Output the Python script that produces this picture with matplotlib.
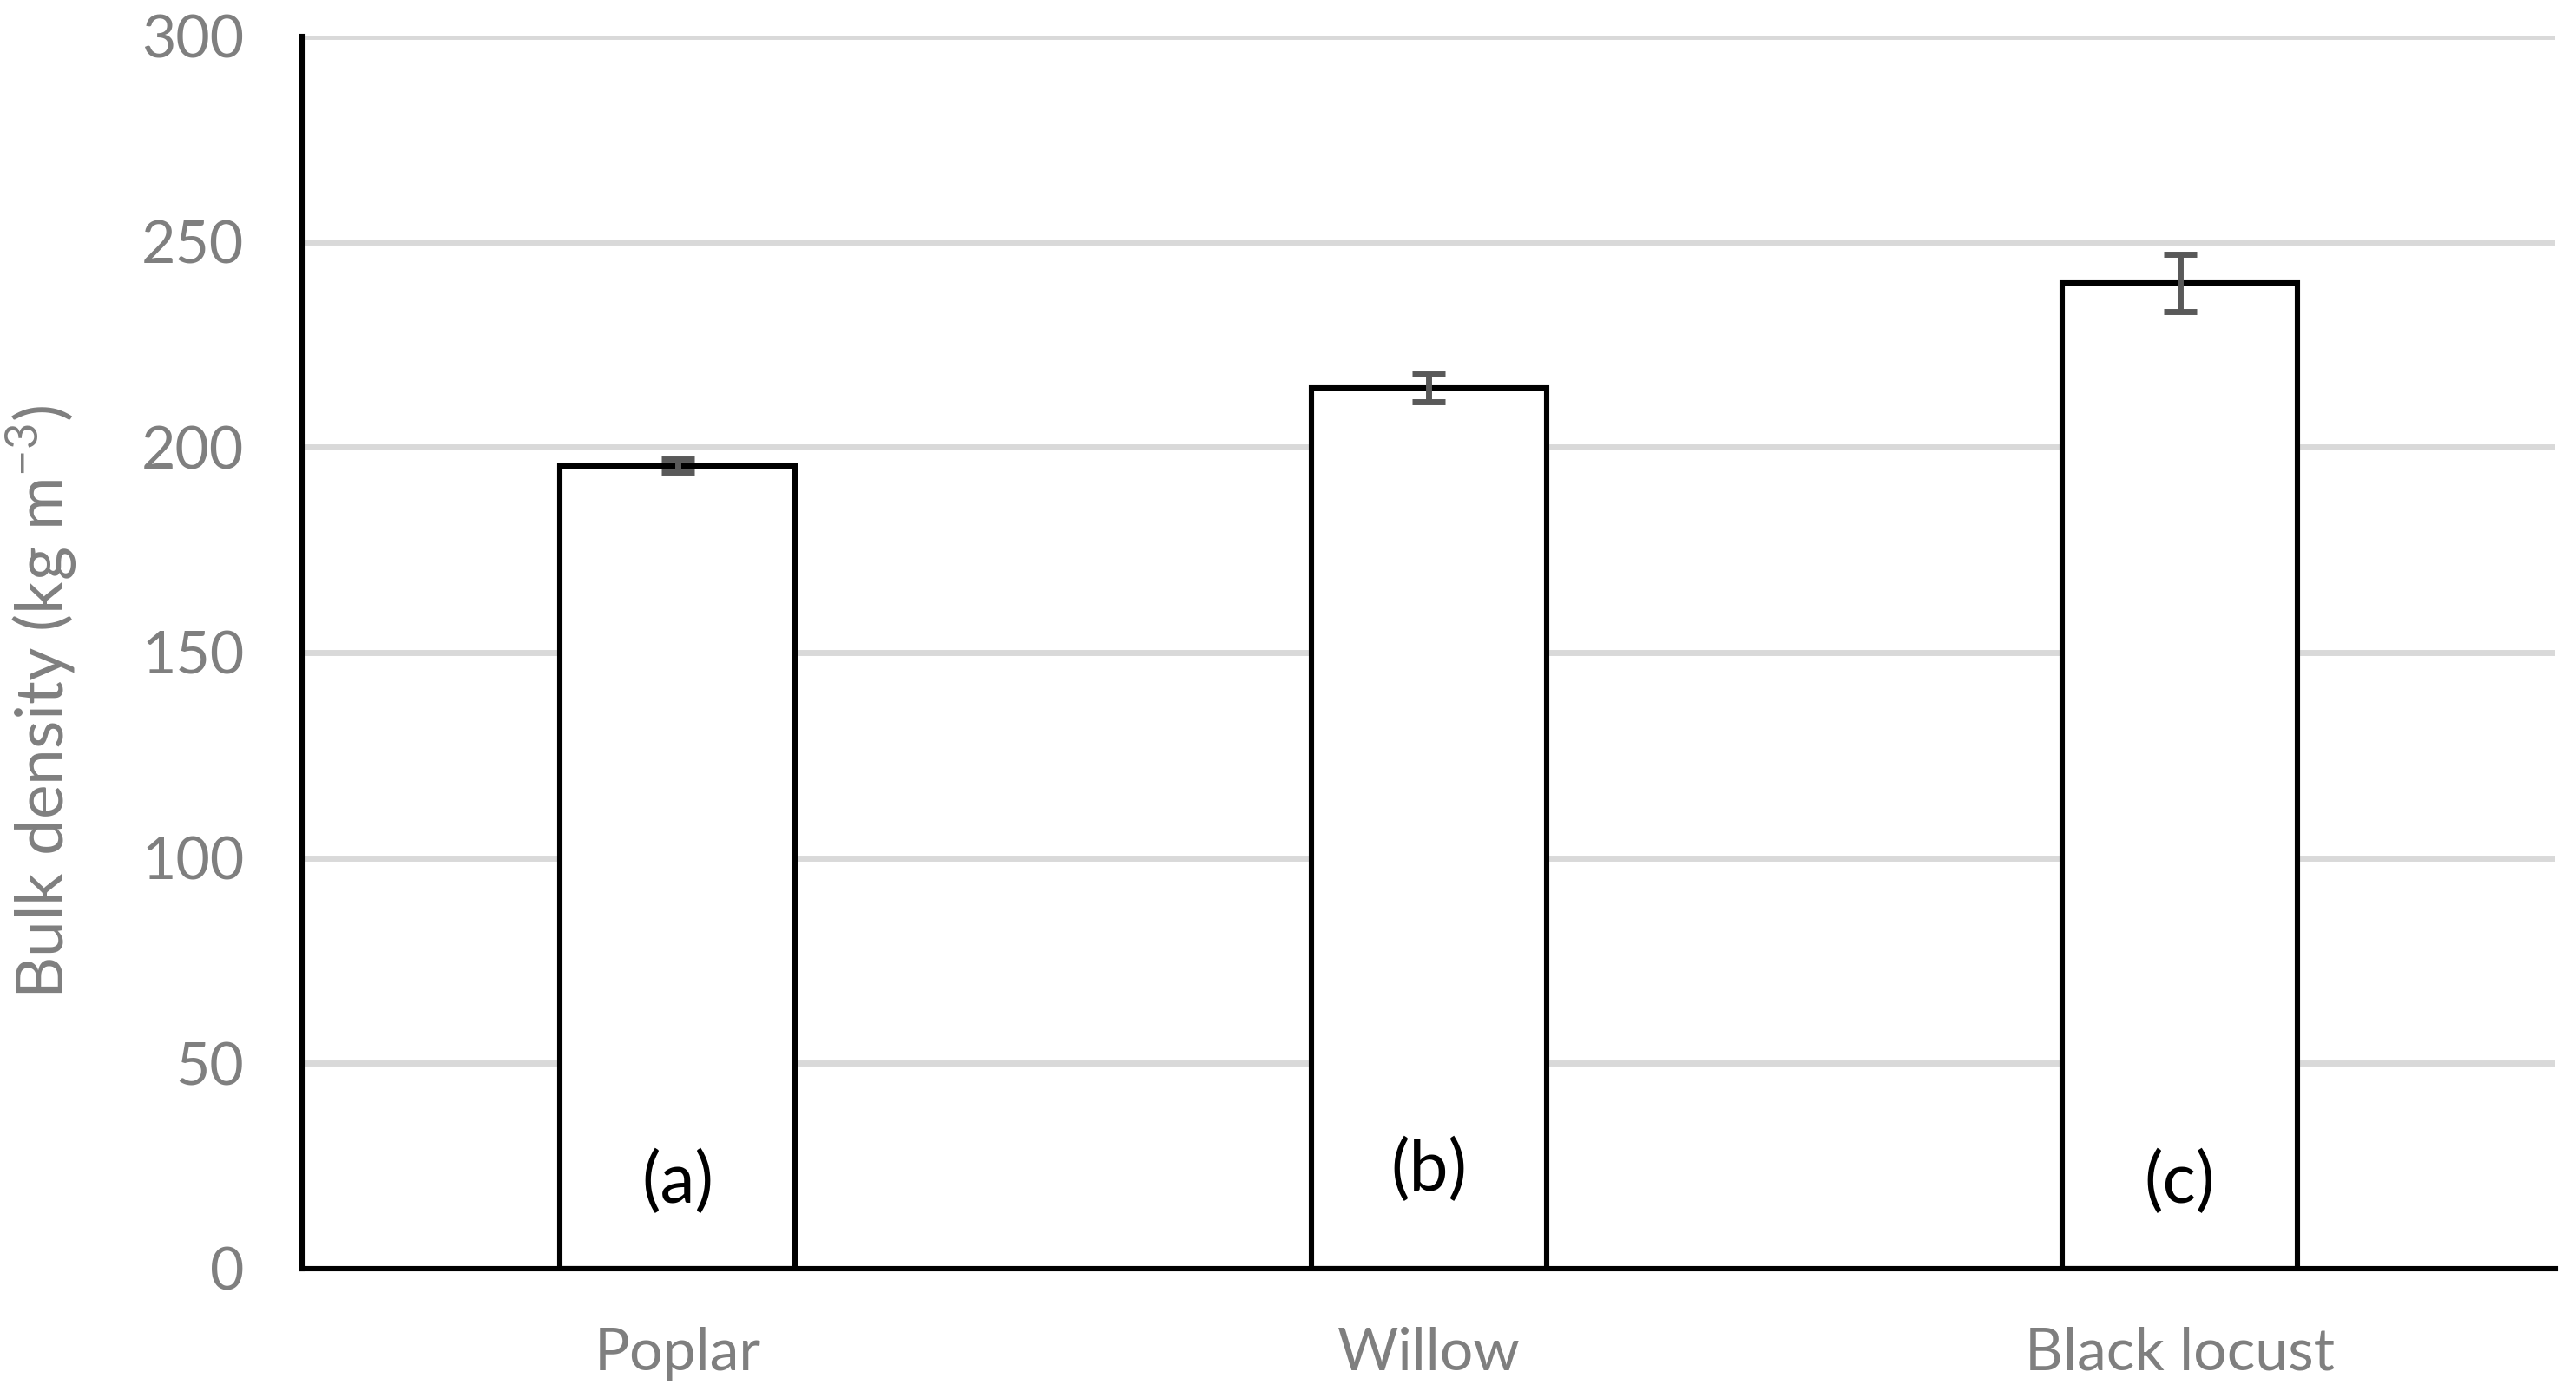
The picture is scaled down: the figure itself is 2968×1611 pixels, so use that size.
import matplotlib.pyplot as plt

species = ["Poplar", "Willow", "Black locust"]
density = [195.5, 214.5, 240.0]
density_err = [1.5, 3.4, 7.0]
letters = ["(a)", "(b)", "(c)"]
letter_y = [21, 24, 21]

plt.rcParams['font.family'] = ['Lato', 'DejaVu Sans']

fig = plt.figure(figsize=(14.84, 8.055), dpi=200)
ax = fig.add_axes([0.1173, 0.0925, 0.992 - 0.1173, 0.974 - 0.0925])

x = [i + 0.5 for i in range(len(species))]
ax.bar(x, density, width=0.313, color='white', edgecolor='black', linewidth=2.2, zorder=3)
ax.errorbar(x, density, yerr=density_err, fmt='none', ecolor='#595959',
            elinewidth=2.5, capsize=6.8, capthick=2.5, zorder=4)

for xi, lab, ly in zip(x, letters, letter_y):
    ax.text(xi, ly, lab, ha='center', va='center', fontsize=29, color='black', zorder=5)

ax.set_xlim(0, 3)
ax.set_ylim(0, 300)
ax.set_yticks(range(0, 301, 50))
ax.set_xticks(x)
ax.set_xticklabels(species)
ax.yaxis.grid(True, color='#d9d9d9', linewidth=2.5, zorder=0)
ax.set_axisbelow(True)

ax.tick_params(axis='both', length=0, labelsize=24.5, labelcolor='#7f7f7f')
ax.tick_params(axis='y', pad=24)
ax.tick_params(axis='x', pad=24)

for s in ['top', 'right']:
    ax.spines[s].set_visible(False)
for s in ['left', 'bottom']:
    ax.spines[s].set_color('black')
    ax.spines[s].set_linewidth(2.2)
    ax.spines[s].set_zorder(6)

ax.set_ylabel(r'Bulk density (kg m$^{\mathregular{-3}}$)', fontsize=27, color='#7f7f7f')
ax.yaxis.set_label_coords(-0.099, 0.46)

fig.savefig('out.png', dpi=200, facecolor='white')
